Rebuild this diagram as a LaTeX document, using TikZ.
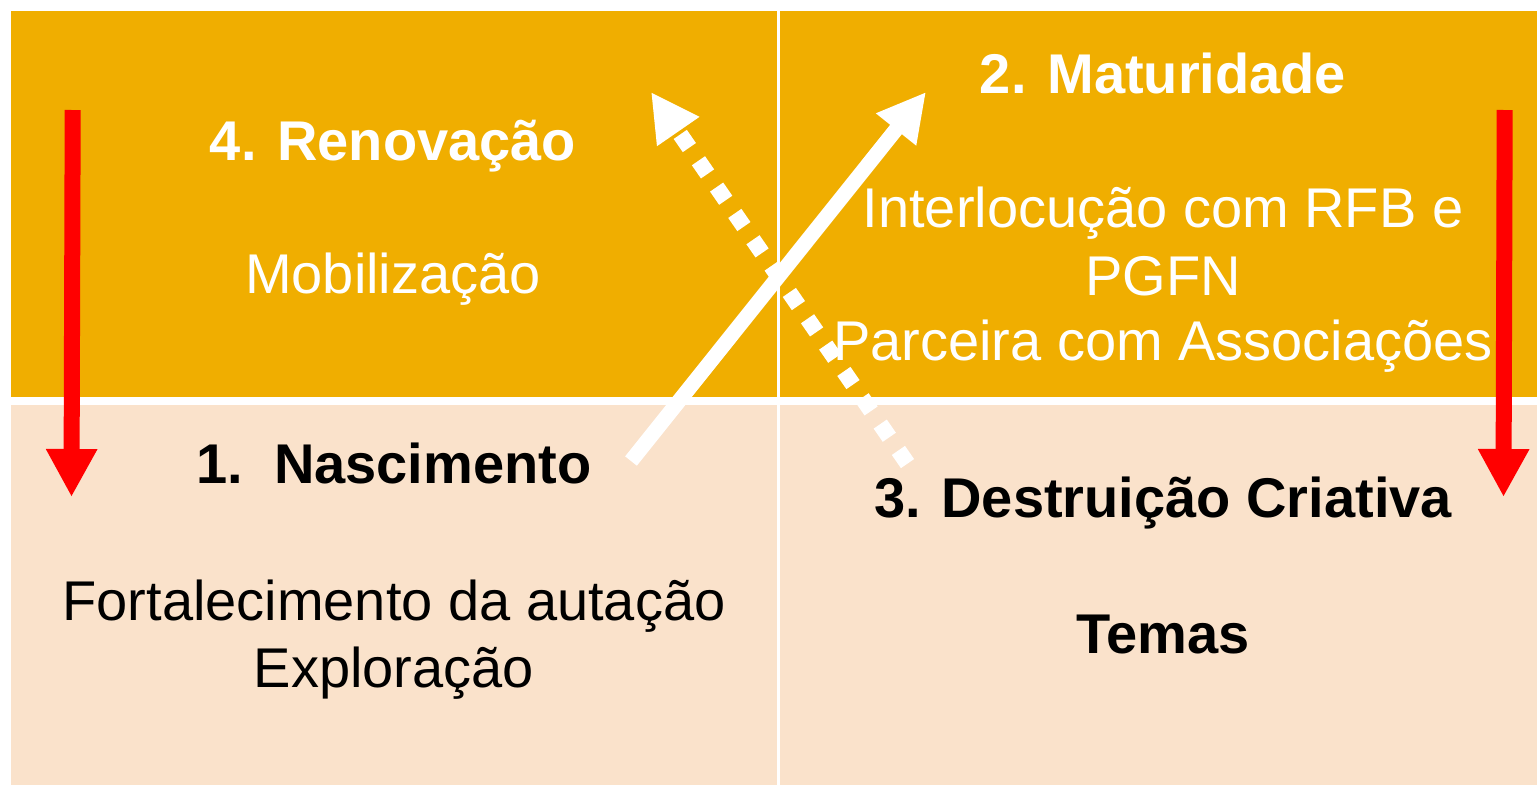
\documentclass[tikz,border=0pt]{standalone}
\usepackage{fontspec}
\setmainfont{Liberation Sans}
\usetikzlibrary{arrows.meta}
\definecolor{orng}{RGB}{240,174,0}
\definecolor{peach}{RGB}{250,226,203}
\definecolor{redA}{RGB}{255,0,0}
\begin{document}
\begin{tikzpicture}[x=1pt,y=-1pt,
  quad/.style={draw=none},
  txt/.style={anchor=base, inner sep=0pt, font=\fontsize{56}{60}\selectfont},
  txtb/.style={anchor=base, inner sep=0pt, font=\fontsize{56}{60}\selectfont\bfseries},
  tip/.style={-{Triangle[length=48pt,width=48pt]}},
  redarrow/.style={draw=redA, line width=16pt, tip},
  whitearrow/.style={draw=white, line width=15pt, tip},
  dotarrow/.style={draw=white, line width=16pt, dash pattern=on 16pt off 16pt, tip}
]
\useasboundingbox (0,0) rectangle (1537,785);
\fill[white] (0,0) rectangle (1537,785);
% quadrants
\fill[orng]  (11,11)  rectangle (777,397);
\fill[orng]  (780,11) rectangle (1537,397);
\fill[peach] (11,405) rectangle (777,785);
\fill[peach] (780,405) rectangle (1537,785);
% texts
\node[txtb, text=white] (renov) at (393,160) {4. Renovação};
\node[txt, text=white] (mobil) at (393,293) {Mobilização};
\node[txtb, text=white] (matur) at (1163,93) {2. Maturidade};
\node[txt, text=white] (inter) at (1163,227) {Interlocução com RFB e};
\node[txt, text=white] (pgfn) at (1163,295) {PGFN};
\node[txt, text=white] (parc) at (1163,360) {Parceira com Associações};
\node[txtb, text=black] (nasc) at (394,483) {1.\ \ Nascimento};
\node[txt, text=black] (forta) at (394,620) {Fortalecimento da autação};
\node[txt, text=black] (explo) at (394,687) {Exploração};
\node[txtb, text=black] (destr) at (1163,517) {3. Destruição Criativa};
\node[txtb, text=black] (temas) at (1163,653) {Temas};
% arrow ends
\coordinate (r1s) at (72.7,110);
\coordinate (r1e) at (71.5,497);
\coordinate (r2s) at (1504.7,110);
\coordinate (r2e) at (1503.5,497);
\coordinate (ws) at (631,461);
\coordinate (we) at (926,92);
\coordinate (ds) at (907.5,463.6);
\coordinate (de) at (651,92);
% arrows
\draw[redarrow] (r1s) -- (r1e);
\draw[redarrow] (r2s) -- (r2e);
\draw[whitearrow] (ws) -- (we);
\draw[dotarrow] (ds) -- (de);
\end{tikzpicture}
\end{document}
